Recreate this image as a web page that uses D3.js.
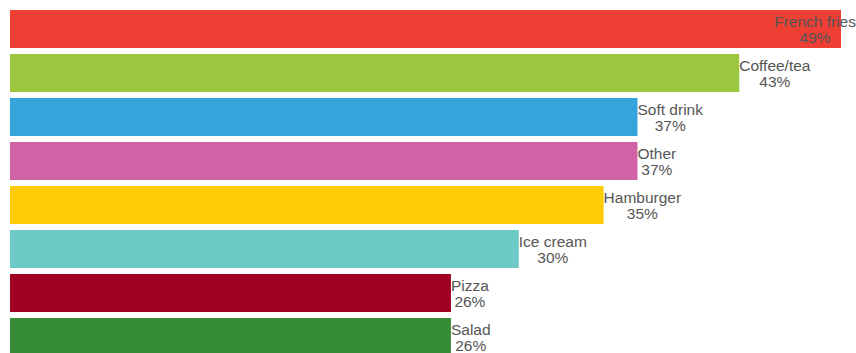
<!DOCTYPE html>
<html>
<head>
<meta charset="utf-8">
<script src="https://cdn.jsdelivr.net/npm/d3@7"></script>
<style>
  body { margin: 0; background: #fff; }
  svg { display: block; font-family: "Liberation Sans", Arial, sans-serif; }
</style>
</head>
<body>
<div id="chart"></div>
<script>
const width = 856
const height = 353

const categories = ['French fries', 'Coffee/tea', 'Soft drink', 'Other', 'Hamburger', 'Ice cream', 'Pizza', 'Salad']
const values = [49, 43, 37, 37, 35, 30, 26, 26]
const colours = ['#ef3e33', '#9bc63d', '#35a4dd', '#d063a5', '#ffcb05', '#6ecac7', '#a00321', '#378d36']

const svg = d3.select('#chart')
  .append('svg')
  .attr('width', width)
  .attr('height', height)

const x = d3.scaleLinear()
  .domain([0, 49])
  .range([10, 841])

// step of 44px, bars 38px tall
const y = d3.scaleBand()
  .domain(categories)
  .range([10, 356])
  .paddingInner(6 / 44)
  .paddingOuter(0)

svg.selectAll('rect.bar')
  .data(categories)
  .join('rect')
  .attr('class', 'bar')
  .attr('x', x(0))
  .attr('y', d => y(d))
  .attr('width', (d, i) => x(values[i]) - x(0))
  .attr('height', y.bandwidth())
  .attr('fill', (d, i) => colours[i])

const labels = svg.selectAll('g.label')
  .data(categories)
  .join('g')
  .attr('class', 'label')

labels.each(function (d, i) {
  const g = d3.select(this)
  const cy = y(d) + y.bandwidth() / 2
  const t1 = g.append('text')
    .attr('y', cy - 2)
    .attr('font-size', 15.5)
    .attr('fill', '#555')
    .attr('text-anchor', 'middle')
    .text(d)
  const t2 = g.append('text')
    .attr('y', cy + 14)
    .attr('font-size', 15.5)
    .attr('fill', '#555')
    .attr('text-anchor', 'middle')
    .text(values[i] + '%')
  const w = Math.max(t1.node().getComputedTextLength(), t2.node().getComputedTextLength())
  const left = Math.min(x(values[i]), width - w)
  t1.attr('x', left + w / 2)
  t2.attr('x', left + w / 2)
})
</script>
</body>
</html>
